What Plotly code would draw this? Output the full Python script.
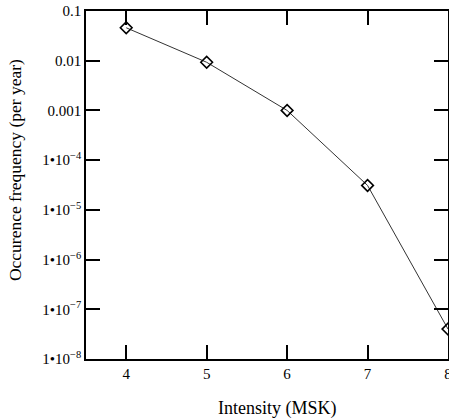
import plotly.graph_objects as go

intensity = [4, 5, 6, 7, 8]
frequency = [0.046, 0.0093, 0.001, 3.1e-5, 4.0e-8]

ytick_vals = [0.1, 0.01, 0.001, 1e-4, 1e-5, 1e-6, 1e-7, 1e-8]
ytick_text = ["0.1", "0.01", "0.001", "1•10<sup>−4</sup>", "1•10<sup>−5</sup>",
              "1•10<sup>−6</sup>", "1•10<sup>−7</sup>", "1•10<sup>−8</sup>"]
xtick_vals = [4, 5, 6, 7, 8]

family = "Liberation Serif, Times New Roman, serif"
font = dict(family=family, size=15, color="black")

fig = go.Figure()
fig.add_trace(go.Scatter(
    x=intensity, y=frequency, mode="lines+markers",
    line=dict(color="#333333", width=1),
    marker=dict(symbol="diamond-open", size=9, color="black", line=dict(width=1.6, color="black")),
    showlegend=False,
))

fig.update_layout(
    width=449, height=420,
    margin=dict(l=86, r=1, t=11, b=61, autoexpand=False),
    paper_bgcolor="white", plot_bgcolor="white",
    font=font,
    annotations=[
        dict(text="Intensity (MSK)", x=0.530, y=-0.141, xref="paper", yref="paper",
             showarrow=False, xanchor="center", yanchor="middle",
             font=dict(family=family, size=18, color="black")),
        dict(text="Occurence frequency (per year)", x=-0.196, y=0.543, xref="paper", yref="paper",
             showarrow=False, xanchor="center", yanchor="middle", textangle=-90,
             font=dict(family=family, size=17.5, color="black")),
    ],
)
fig.update_xaxes(
    range=[3.5, 8], tickvals=xtick_vals, ticktext=[str(v) for v in xtick_vals],
    ticks="inside", ticklen=14, tickwidth=1.5, tickcolor="black",
    showline=True, linecolor="black", linewidth=1.5, mirror="ticks",
    showgrid=False, zeroline=False, automargin=False, ticklabeloverflow="allow",
)
fig.update_yaxes(
    type="log", range=[-8, -1], tickvals=ytick_vals, ticktext=ytick_text,
    ticks="inside", ticklen=14, tickwidth=1.5, tickcolor="black",
    showline=True, linecolor="black", linewidth=1.5, mirror="ticks",
    showgrid=False, zeroline=False, automargin=False, ticklabeloverflow="allow",
)

fig.write_html(
    "out.html",
    config={"displayModeBar": False},
    post_script="document.body.style.margin='0';document.body.style.overflow='hidden';",
)
